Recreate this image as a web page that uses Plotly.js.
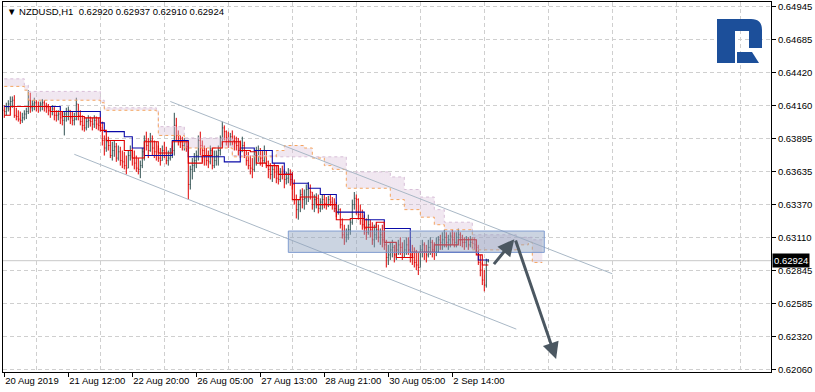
<!DOCTYPE html>
<html>
<head>
<meta charset="utf-8">
<script src="https://cdn.plot.ly/plotly-3.0.1.min.js"></script>
<style>
html,body{margin:0;padding:0;background:#fff;}
#wrap{position:relative;width:815px;height:392px;}
#chart{width:815px;height:392px;}
#logo{position:absolute;left:0;top:0;pointer-events:none;}
</style>
</head>
<body>
<div id="wrap">
<div id="chart"></div>
<svg id="logo" width="815" height="392">
  <path d="M717,19 H751 Q762,19 762,30 V48 H749 V31 H735 V63 H717 Z" fill="#1C4F9A"/>
  <path d="M737,52 H752 L759,63 H737 Z" fill="#1C4F9A"/>
</svg>
</div>
<script>
// ---- hourly NZDUSD bars (index 0 = 20 Aug 2019 04:00) ----
const firstOpen = 0.6412;
const highs = [
0.6416,0.6418,0.6420,0.6423,0.6423,0.6424,0.6414,0.6412,0.6411,0.6410,
0.6412,0.6414,0.6428,0.6426,0.6420,0.6422,0.6420,0.6419,0.6419,0.6421,
0.6420,0.6418,0.6417,0.6415,0.6416,0.6415,0.6412,0.6412,0.6411,0.6411,
0.6411,0.6414,0.6415,0.6412,0.6411,0.6410,0.6422,0.6417,0.6412,0.6408,
0.6406,0.6406,0.6408,0.6407,0.6406,0.6408,0.6407,0.6406,0.6404,0.6403,
0.6392,0.6390,0.6391,0.6388,0.6387,0.6388,0.6386,0.6384,0.6383,0.6380,
0.6379,0.6376,0.6380,0.6384,0.6382,0.6380,0.6376,0.6374,0.6372,0.6382,
0.6392,0.6395,0.6390,0.6394,0.6392,0.6388,0.6387,0.6384,0.6382,0.6384,
0.6387,0.6383,0.6380,0.6382,0.6384,0.6410,0.6406,0.6396,0.6392,0.6391,
0.6390,0.6388,0.6384,0.6368,0.6374,0.6378,0.6380,0.6392,0.6395,0.6388,
0.6384,0.6382,0.6380,0.6384,0.6382,0.6380,0.6380,0.6384,0.6392,0.6403,
0.6400,0.6396,0.6395,0.6394,0.6396,0.6392,0.6391,0.6390,0.6388,0.6391,
0.6387,0.6380,0.6379,0.6376,0.6374,0.6380,0.6383,0.6384,0.6382,0.6380,
0.6384,0.6380,0.6372,0.6370,0.6368,0.6370,0.6368,0.6368,0.6366,0.6368,
0.6365,0.6363,0.6366,0.6365,0.6363,0.6357,0.6345,0.6341,0.6349,0.6350,
0.6349,0.6353,0.6355,0.6353,0.6347,0.6345,0.6346,0.6345,0.6342,0.6345,
0.6345,0.6343,0.6344,0.6345,0.6343,0.6342,0.6339,0.6337,0.6334,0.6326,
0.6321,0.6318,0.6321,0.6325,0.6341,0.6347,0.6345,0.6342,0.6337,0.6333,
0.6329,0.6326,0.6329,0.6325,0.6323,0.6321,0.6322,0.6321,0.6318,0.6321,
0.6317,0.6309,0.6305,0.6307,0.6309,0.6305,0.6307,0.6309,0.6311,0.6307,
0.6309,0.6311,0.6311,0.6309,0.6305,0.6303,0.6301,0.6299,0.6305,0.6309,
0.6307,0.6305,0.6309,0.6311,0.6309,0.6307,0.6311,0.6312,0.6313,0.6315,
0.6317,0.6315,0.6313,0.6315,0.6317,0.6315,0.6315,0.6318,0.6315,0.6313,
0.6311,0.6312,0.6311,0.6312,0.6311,0.6311,0.6309,0.6305,0.6297,0.6291,
0.6285,0.6294,0.62937];
const lows = [
0.6406,0.6408,0.6411,0.6412,0.6414,0.6406,0.6404,0.6403,0.6401,0.6402,
0.6404,0.6405,0.6409,0.6410,0.6411,0.6412,0.6411,0.6410,0.6411,0.6412,
0.6411,0.6410,0.6408,0.6406,0.6408,0.6404,0.6403,0.6404,0.6401,0.6400,
0.6392,0.6403,0.6404,0.6401,0.6400,0.6400,0.6404,0.6404,0.6400,0.6396,
0.6395,0.6396,0.6398,0.6399,0.6396,0.6398,0.6397,0.6396,0.6395,0.6384,
0.6376,0.6379,0.6380,0.6374,0.6372,0.6375,0.6371,0.6372,0.6368,0.6366,
0.6365,0.6361,0.6366,0.6372,0.6368,0.6365,0.6363,0.6361,0.6358,0.6366,
0.6372,0.6380,0.6374,0.6379,0.6376,0.6374,0.6372,0.6371,0.6368,0.6372,
0.6374,0.6369,0.6368,0.6372,0.6374,0.6376,0.6388,0.6384,0.6382,0.6380,
0.6380,0.6379,0.6341,0.6349,0.6357,0.6363,0.6366,0.6372,0.6376,0.6371,
0.6368,0.6368,0.6366,0.6369,0.6365,0.6366,0.6368,0.6368,0.6376,0.6384,
0.6388,0.6384,0.6382,0.6384,0.6384,0.6380,0.6380,0.6376,0.6374,0.6379,
0.6374,0.6368,0.6365,0.6361,0.6358,0.6363,0.6368,0.6371,0.6368,0.6367,
0.6370,0.6366,0.6358,0.6357,0.6355,0.6358,0.6354,0.6353,0.6355,0.6357,
0.6350,0.6353,0.6354,0.6352,0.6349,0.6337,0.6326,0.6325,0.6331,0.6334,
0.6333,0.6337,0.6339,0.6341,0.6333,0.6331,0.6334,0.6330,0.6331,0.6333,
0.6334,0.6333,0.6335,0.6336,0.6333,0.6331,0.6327,0.6329,0.6318,0.6310,
0.6305,0.6307,0.6309,0.6313,0.6321,0.6333,0.6329,0.6325,0.6321,0.6317,
0.6313,0.6309,0.6313,0.6311,0.6305,0.6303,0.6309,0.6307,0.6305,0.6303,
0.6301,0.6287,0.6289,0.6293,0.6295,0.6291,0.6293,0.6297,0.6297,0.6293,
0.6295,0.6297,0.6297,0.6291,0.6289,0.6287,0.6285,0.6281,0.6287,0.6295,
0.6293,0.6291,0.6295,0.6297,0.6295,0.6293,0.6296,0.6299,0.6301,0.6301,
0.6303,0.6303,0.6301,0.6303,0.6305,0.6303,0.6303,0.6305,0.6304,0.6303,
0.6301,0.6303,0.6301,0.6303,0.6302,0.6301,0.6299,0.6289,0.6280,0.6273,
0.6268,0.6271,0.62910];
const closes = [
0.6411,0.6414,0.6417,0.6419,0.6420,0.6408,0.6407,0.6405,0.6404,0.6406,
0.6409,0.6411,0.6420,0.6414,0.6417,0.6418,0.6415,0.6415,0.6417,0.6418,
0.6415,0.6414,0.6412,0.6411,0.6413,0.6408,0.6408,0.6409,0.6406,0.6404,
0.6409,0.6411,0.6412,0.6406,0.6404,0.6405,0.6417,0.6408,0.6403,0.6400,
0.6398,0.6403,0.6404,0.6403,0.6401,0.6404,0.6401,0.6400,0.6398,0.6388,
0.6382,0.6387,0.6384,0.6376,0.6380,0.6383,0.6374,0.6379,0.6372,0.6371,
0.6368,0.6366,0.6376,0.6380,0.6374,0.6370,0.6366,0.6365,0.6368,0.6379,
0.6388,0.6384,0.6380,0.6388,0.6382,0.6379,0.6376,0.6374,0.6372,0.6380,
0.6376,0.6372,0.6374,0.6376,0.6380,0.6400,0.6392,0.6388,0.6387,0.6384,
0.6386,0.6383,0.6353,0.6365,0.6368,0.6372,0.6376,0.6388,0.6384,0.6380,
0.6376,0.6372,0.6371,0.6380,0.6368,0.6372,0.6376,0.6380,0.6390,0.6398,
0.6395,0.6390,0.6388,0.6391,0.6388,0.6386,0.6384,0.6380,0.6379,0.6384,
0.6376,0.6372,0.6368,0.6366,0.6365,0.6376,0.6376,0.6380,0.6374,0.6372,
0.6380,0.6371,0.6365,0.6361,0.6365,0.6363,0.6358,0.6357,0.6363,0.6361,
0.6357,0.6358,0.6361,0.6357,0.6353,0.6341,0.6333,0.6337,0.6345,0.6341,
0.6342,0.6349,0.6350,0.6347,0.6337,0.6341,0.6342,0.6334,0.6339,0.6341,
0.6338,0.6337,0.6341,0.6339,0.6337,0.6334,0.6331,0.6333,0.6321,0.6313,
0.6311,0.6313,0.6317,0.6323,0.6337,0.6342,0.6341,0.6329,0.6326,0.6321,
0.6318,0.6315,0.6321,0.6317,0.6309,0.6313,0.6317,0.6311,0.6313,0.6309,
0.6305,0.6295,0.6297,0.6301,0.6303,0.6297,0.6301,0.6305,0.6303,0.6299,
0.6301,0.6305,0.6301,0.6297,0.6295,0.6291,0.6289,0.6287,0.6301,0.6305,
0.6299,0.6297,0.6303,0.6307,0.6301,0.6299,0.6305,0.6309,0.6307,0.6309,
0.6311,0.6307,0.6309,0.6312,0.6309,0.6307,0.6311,0.6313,0.6309,0.6307,
0.6307,0.6309,0.6305,0.6307,0.6306,0.6305,0.6303,0.6291,0.6285,0.6277,
0.6273,0.6292,0.62924];

// ---- Ichimoku lines (step points: bar index, price) ----
const tenkanIdx = [0,3,23,29,40,48,51,60,64,70,77,84,92,99,104,109,118,123,126,131,137,144,148,156,166,173,180,186,190,196,204,215,227,236,239,242];
const tenkanVal = [0.6408,0.6415,0.6411,0.6407,0.6406,0.6396,0.6388,0.6380,0.6374,0.6387,0.6378,0.6387,0.6370,0.6376,0.6382,0.6387,0.6380,0.6379,0.6370,0.6368,0.6361,0.6341,0.6343,0.6337,0.6325,0.6326,0.6319,0.6323,0.6307,0.6295,0.6299,0.6305,0.6309,0.6297,0.6289,0.6289];
const kijunIdx = [0,28,48,50,60,64,70,84,92,110,118,125,134,140,144,152,158,166,180,190,203,237,242];
const kijunVal = [0.6415,0.6411,0.6402,0.6395,0.6391,0.6382,0.6376,0.6388,0.6375,0.6371,0.6382,0.6380,0.6370,0.6361,0.6354,0.6350,0.6345,0.6331,0.6325,0.6318,0.6299,0.6293,0.6293];
const kumoIdx = [0,10,12,48,50,76,77,90,114,136,140,150,154,160,164,171,193,200,208,215,220,234,256,262,264,269];
const spanA = [0.6431,0.6428,0.6420,0.6418,0.6412,0.6411,0.6392,0.6382,0.6375,0.6380,0.6384,0.6382,0.6374,0.6368,0.6365,0.6350,0.6341,0.6333,0.6327,0.6321,0.6317,0.6301,0.6305,0.6307,0.6291,0.6291];
const spanB = [0.6437,0.6432,0.6427,0.6420,0.6414,0.6412,0.6399,0.6390,0.6376,0.6375,0.6375,0.6375,0.6375,0.6375,0.6375,0.6363,0.6359,0.6349,0.6343,0.6333,0.6323,0.6313,0.6311,0.6311,0.6309,0.6309];

// ---- drawn objects (bar index, price) ----
const chanUpperIdx = [83, 304], chanUpperVal = [0.6419, 0.6282];
const chanLowerIdx = [35, 256], chanLowerVal = [0.6377, 0.6238];
const zoneIdx = [142, 270], zoneVal = [0.6299, 0.6316];
const arrow1 = {fromIdx: 244.2, fromVal: 0.62885, toIdx: 255, toVal: 0.63095};
const arrow2 = {fromIdx: 255.4, fromVal: 0.63097, toIdx: 275.9, toVal: 0.62143};

// ---- axes ----
const xTickIdx = [0, 32, 64, 96, 128, 160, 192, 224];
const xTickLabels = ['20 Aug 2019','21 Aug 12:00','22 Aug 20:00','26 Aug 05:00','27 Aug 13:00','28 Aug 21:00','30 Aug 05:00','2 Sep 14:00'];
const xGridIdx = [16, 48, 80, 112, 144, 176, 208, 240, 272, 304, 336, 368];
const yTicks = [0.62060,0.62320,0.62585,0.62845,0.63110,0.63370,0.63635,0.63895,0.64160,0.64420,0.64685,0.64945];
const yTickLabels = ['0.62060','0.62320','0.62585','0.62845','0.63110','0.63370','0.63635','0.63895','0.64160','0.64420','0.64685','0.64945'];
const symbol = 'NZDUSD,H1';

const FONT = 'Liberation Sans, Arial, sans-serif';
const xs = closes.map((_, i) => i);
const opens = [firstOpen].concat(closes.slice(0, -1));
const n = closes.length - 1;
const lastClose = closes[n];

const traces = [
  {type:'scatter', mode:'lines', x:kumoIdx, y:spanB, line:{color:'#D8BFD8', width:1, dash:'dot', shape:'hv'}, hoverinfo:'skip'},
  {type:'scatter', mode:'lines', x:kumoIdx, y:spanA, fill:'tonexty', fillcolor:'rgba(0,0,0,0)',
   fillpattern:{shape:'|', fgcolor:'#D8BFD8', bgcolor:'rgba(255,255,255,0)', size:2, solidity:0.5, fgopacity:0.75},
   line:{color:'#F4A460', width:1, dash:'dot', shape:'hv'}, hoverinfo:'skip'},
  {type:'ohlc', x:xs, open:opens, high:highs, low:lows, close:closes,
   increasing:{line:{color:'#2F4F4F', width:1}}, decreasing:{line:{color:'#E00000', width:1}},
   tickwidth:0.35, hoverinfo:'skip'},
  {type:'scatter', mode:'lines', x:kijunIdx, y:kijunVal, line:{color:'#0A0AA8', width:1.1, shape:'hv'}, hoverinfo:'skip'},
  {type:'scatter', mode:'lines', x:tenkanIdx, y:tenkanVal, line:{color:'#E00000', width:1.1, shape:'hv'}, hoverinfo:'skip'}
];

const shapes = [
  {type:'line', xref:'paper', x0:0, x1:1, yref:'y', y0:lastClose, y1:lastClose, line:{color:'#C8C8C8', width:1}, layer:'below'},
  {type:'line', xref:'x', yref:'y', x0:chanUpperIdx[0], x1:chanUpperIdx[1], y0:chanUpperVal[0], y1:chanUpperVal[1], line:{color:'#A9B8C6', width:1}},
  {type:'line', xref:'x', yref:'y', x0:chanLowerIdx[0], x1:chanLowerIdx[1], y0:chanLowerVal[0], y1:chanLowerVal[1], line:{color:'#A9B8C6', width:1}},
  {type:'rect', xref:'x', yref:'y', x0:zoneIdx[0], x1:zoneIdx[1], y0:zoneVal[0], y1:zoneVal[1],
   fillcolor:'rgba(140,160,188,0.45)', line:{color:'rgba(120,150,205,0.9)', width:1}, layer:'above'}
];

const header = '▼ ' + symbol + '  ' + [opens[n], highs[n], lows[n], closes[n]].map(v => v.toFixed(5)).join(' ');

const annotations = [
  {xref:'paper', yref:'paper', x:0, y:1, xanchor:'left', yanchor:'top', xshift:2, yshift:-2, showarrow:false,
   text:header, font:{family:FONT, size:9.5, color:'#000'}},
  {xref:'paper', yref:'y', x:1, y:lastClose, xanchor:'left', yanchor:'middle', xshift:1, showarrow:false,
   text:lastClose.toFixed(5), bgcolor:'#000', borderpad:1, font:{family:FONT, size:9.5, color:'#fff'}},
  {xref:'x', yref:'y', axref:'x', ayref:'y', x:arrow1.toIdx, y:arrow1.toVal, ax:arrow1.fromIdx, ay:arrow1.fromVal,
   text:'', showarrow:true, arrowhead:2, arrowsize:1.1, arrowwidth:3, arrowcolor:'#4B5761', standoff:0},
  {xref:'x', yref:'y', axref:'x', ayref:'y', x:arrow2.toIdx, y:arrow2.toVal, ax:arrow2.fromIdx, ay:arrow2.fromVal,
   text:'', showarrow:true, arrowhead:2, arrowsize:1.1, arrowwidth:3, arrowcolor:'#4B5761', standoff:0}
];

const layout = {
  width:815, height:392,
  margin:{l:3, r:44, t:2, b:20, pad:0},
  paper_bgcolor:'#fff', plot_bgcolor:'#fff',
  showlegend:false, hovermode:false,
  font:{family:FONT, size:9.5, color:'#000'},
  xaxis:{
    range:[-0.65, 383.35], fixedrange:true,
    tickmode:'array', tickvals:xTickIdx, ticktext:xTickLabels, tickangle:0,
    ticks:'outside', ticklen:4, tickcolor:'#000', tickwidth:1,
    ticklabelposition:'outside right',
    tickfont:{family:FONT, size:9.5, color:'#000'},
    showgrid:false, zeroline:false,
    showline:true, linecolor:'#000', linewidth:1, mirror:true,
    rangeslider:{visible:false},
    minor:{tickmode:'array', tickvals:xGridIdx, showgrid:true, gridcolor:'#CFCFCF', griddash:'4px,3px', gridwidth:1, ticks:''}
  },
  yaxis:{
    side:'right', range:[0.62039, 0.64981], fixedrange:true,
    tickmode:'array', tickvals:yTicks, ticktext:yTickLabels,
    ticks:'outside', ticklen:4, tickcolor:'#000', tickwidth:1,
    tickfont:{family:FONT, size:9.5, color:'#000'},
    showgrid:true, gridcolor:'#CFCFCF', griddash:'4px,3px', gridwidth:1,
    zeroline:false, showline:true, linecolor:'#000', linewidth:1, mirror:true
  },
  shapes:shapes,
  annotations:annotations
};

Plotly.newPlot('chart', traces, layout, {staticPlot:true, displayModeBar:false});
</script>
</body>
</html>
